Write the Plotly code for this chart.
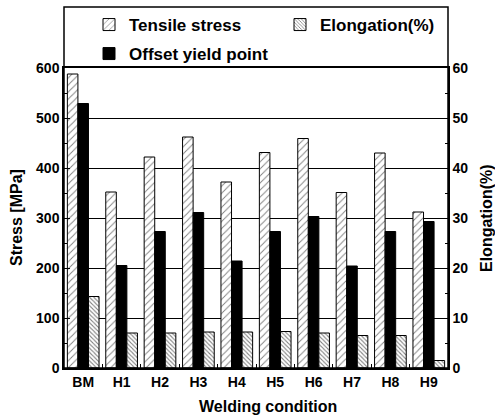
import plotly.graph_objects as go

categories = ["BM", "H1", "H2", "H3", "H4", "H5", "H6", "H7", "H8", "H9"]
tensile_stress = [588, 352, 422, 462, 372, 431, 459, 351, 430, 312]
offset_yield = [529, 205, 273, 311, 214, 273, 303, 204, 273, 293]
elongation = [14.3, 7.0, 7.0, 7.2, 7.2, 7.3, 7.0, 6.5, 6.5, 1.5]

FONT = "Liberation Sans, Arial, sans-serif"
W = 0.275
L, R, T, B = 64, 47, 7, 50
PW, PH = 495 - L - R, 418 - T - B
dom_top = 300 / PH


def py(px):  # paper y from pixel row
    return 1 - (px - T) / PH


def px_(x):  # paper x from pixel column
    return (x - L) / PW


fig = go.Figure()
fig.add_trace(go.Bar(
    x=categories, y=tensile_stress, name="Tensile stress",
    width=W, offset=-1.5 * W,
    marker=dict(color="white", line=dict(color="black", width=1),
                pattern=dict(shape="/", fgcolor="black", bgcolor="white", size=5, solidity=0.18)),
    yaxis="y", legend="legend",
))
fig.add_trace(go.Bar(
    x=categories, y=offset_yield, name="Offset yield point",
    width=W, offset=-0.5 * W,
    marker=dict(color="black", line=dict(color="black", width=1)),
    yaxis="y", legend="legend2",
))
fig.add_trace(go.Bar(
    x=categories, y=elongation, name="Elongation(%)",
    width=W, offset=0.5 * W,
    marker=dict(color="white", line=dict(color="black", width=1),
                pattern=dict(shape="\\", fgcolor="black", bgcolor="white", size=3, solidity=0.35)),
    yaxis="y2", legend="legend3",
))

legend_font = dict(family=FONT, size=17, color="black", weight="bold")
axis_title_font = dict(family=FONT, size=16, color="black", weight="bold")


def leg(x, y):
    return dict(orientation="h", x=px_(x), y=py(y), xanchor="left", yanchor="middle",
                font=legend_font, bgcolor="rgba(0,0,0,0)")


fig.update_layout(
    width=495, height=418,
    margin=dict(l=L, r=R, t=T, b=B, autoexpand=False),
    paper_bgcolor="white", plot_bgcolor="white",
    font=dict(family=FONT, size=14, color="black", weight="bold"),
    barmode="overlay",
    showlegend=True,
    legend=leg(89, 25),
    legend2=leg(89, 54),
    legend3=leg(280, 25),
    xaxis=dict(
        type="category", range=[-0.5, 9.5], automargin=False,
        showline=True, linecolor="black", linewidth=1.5, mirror=True,
        ticks="inside", ticklen=4, tickson="boundaries", tickcolor="black",
        showgrid=False,
        tickfont=dict(size=14, weight="bold"),
    ),
    yaxis=dict(
        domain=[0, dom_top], range=[0, 600], automargin=False,
        tickvals=[0, 100, 200, 300, 400, 500, 600],
        showline=True, linecolor="black", linewidth=1.5,
        ticks="inside", ticklen=6, tickcolor="black",
        minor=dict(dtick=50, ticks="inside", ticklen=3, tickcolor="black"),
        showgrid=True, gridcolor="black", gridwidth=1,
        zeroline=False,
        tickfont=dict(size=14, weight="bold"),
    ),
    yaxis2=dict(
        overlaying="y", side="right", range=[0, 60], automargin=False,
        tickvals=[0, 10, 20, 30, 40, 50, 60],
        showline=True, linecolor="black", linewidth=1.5,
        ticks="inside", ticklen=6, tickcolor="black",
        minor=dict(dtick=5, ticks="inside", ticklen=3, tickcolor="black"),
        showgrid=False, zeroline=False,
        tickfont=dict(size=14, weight="bold"),
    ),
    shapes=[dict(type="rect", xref="paper", yref="paper", x0=0, x1=1, y0=0, y1=1,
                 line=dict(color="black", width=1.5), fillcolor="rgba(0,0,0,0)", layer="above")],
    annotations=[
        dict(text="Welding condition", xref="paper", yref="paper",
             x=px_(268), y=py(406), xanchor="center", yanchor="middle",
             showarrow=False, font=axis_title_font),
        dict(text="Stress [MPa]", xref="paper", yref="paper",
             x=px_(16), y=py(218), xanchor="center", yanchor="middle",
             textangle=-90, showarrow=False, font=axis_title_font),
        dict(text="Elongation(%)", xref="paper", yref="paper",
             x=px_(486), y=py(218), xanchor="center", yanchor="middle",
             textangle=-90, showarrow=False, font=axis_title_font),
    ],
)

fig.write_html("out.html", config={"displayModeBar": False},
               post_script="document.body.style.margin='0';")
